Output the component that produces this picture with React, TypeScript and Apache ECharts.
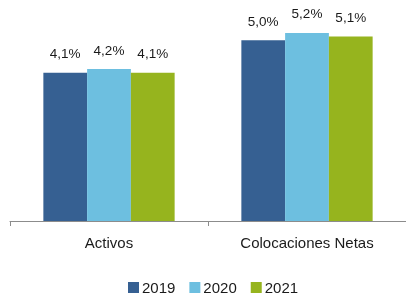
import React, { useEffect, useRef } from "react";
import * as echarts from "echarts";

const categories = ["Activos", "Colocaciones Netas"];
const seriesNames = ["2019", "2020", "2021"];
const values2019 = [4.1, 5.0];
const values2020 = [4.2, 5.2];
const values2021 = [4.1, 5.1];
const colors = ["#366092", "#6DBFE0", "#96B41E"];

const FONT = "'Liberation Sans', Arial, sans-serif";

export default function App() {
  const ref = useRef<HTMLDivElement>(null);
  useEffect(() => {
    if (!ref.current) return;
    const chart = echarts.init(ref.current, null, { renderer: "svg" });
    const data = [values2019, values2020, values2021];
    chart.setOption({
      animation: false,
      textStyle: { fontFamily: FONT },
      legend: {
        data: seriesNames,
        top: 280,
        padding: 0,
        left: 128,
        itemWidth: 11,
        itemHeight: 11,
        itemGap: 14,
        icon: "rect",
        textStyle: { fontSize: 15, lineHeight: 15, color: "#1a1a1a", fontFamily: FONT, padding: [0, 0, 0, -2] },
      },
      grid: { left: 10, right: -2, top: 4, bottom: 74 },
      xAxis: {
        type: "category",
        data: categories,
        axisLine: { lineStyle: { color: "#8c8c8c", width: 1 } },
        axisTick: { show: true, length: 5, lineStyle: { color: "#8c8c8c" } },
        axisLabel: { fontSize: 15, color: "#1a1a1a", margin: 14, interval: 0, fontFamily: FONT },
      },
      yAxis: {
        type: "value",
        min: 0,
        max: 6,
        show: false,
        splitLine: { show: false },
      },
      series: seriesNames.map((name, i) => ({
        name,
        type: "bar",
        data: data[i],
        barGap: "0%",
        barCategoryGap: "33.7%",
        itemStyle: { color: colors[i] },
        label: {
          show: true,
          position: "top",
          distance: 12,
          fontSize: 13.5,
          color: "#1a1a1a",
          fontFamily: FONT,
          formatter: (p: any) => p.value.toFixed(1).replace(".", ",") + "%",
        },
      })),
    });
    return () => chart.dispose();
  }, []);
  return (
    <div
      ref={ref}
      style={{ position: "fixed", left: 0, top: 0, width: 406, height: 295 }}
    />
  );
}
